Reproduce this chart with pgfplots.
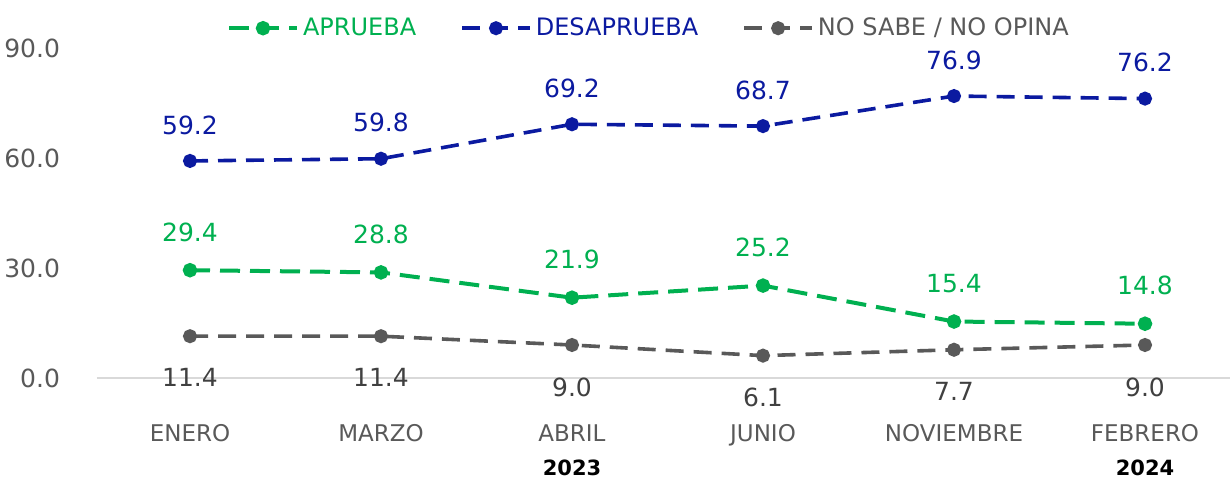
\documentclass[border=0pt]{standalone}
\usepackage{pgfplots}
\pgfplotsset{compat=1.18}
\usepackage{fontspec}
\setmainfont{DejaVu Sans}
\definecolor{cgreen}{HTML}{00B050}
\definecolor{cblue}{HTML}{0B1AA0}
\definecolor{cgray}{HTML}{595959}
\definecolor{cdgray}{HTML}{404040}
\definecolor{caxis}{HTML}{D9D9D9}
\begin{document}
\begin{tikzpicture}
\begin{axis}[
  scale only axis,
  width=566.5pt, height=165pt,
  xmin=-0.487, xmax=5.445,
  ymin=0, ymax=90,
  clip=false,
  axis y line=none,
  axis x line*=bottom,
  x axis line style={caxis, line width=1pt, -},
  xtick=\empty,
  ytick=\empty,
  /pgf/number format/assume math mode=true,
  legend style={draw=none, fill=none, at={(axis description cs:0.488,1.06)}, anchor=center,
    legend columns=3, font=\fontsize{12}{14}\selectfont,
    /tikz/every even column/.append style={column sep=20pt}},
  legend image code/.code={\draw[mark repeat=2,mark phase=2,#1] plot coordinates {(0pt,0pt) (17pt,0pt) (34pt,0pt)};},
  every node near coord/.append style={font=\fontsize{12.5}{14}\selectfont},
]
\addplot[cgreen, line width=2pt, dash pattern=on 10pt off 5pt, mark=*, mark size=2.6pt, mark options={solid},
  nodes near coords, point meta=explicit symbolic,
  every node near coord/.append style={cgreen, yshift=10pt}]
  coordinates {(0,29.4)[29.4] (1,28.8)[28.8] (2,21.9)[21.9] (3,25.2)[25.2] (4,15.4)[15.4] (5,14.8)[14.8]};
\addlegendentry{\textcolor{cgreen}{APRUEBA}}
\addplot[cblue, line width=1.8pt, dash pattern=on 9pt off 5pt, mark=*, mark size=2.6pt, mark options={solid},
  nodes near coords, point meta=explicit symbolic,
  every node near coord/.append style={cblue, yshift=9pt}]
  coordinates {(0,59.2)[59.2] (1,59.8)[59.8] (2,69.2)[69.2] (3,68.7)[68.7] (4,76.9)[76.9] (5,76.2)[76.2]};
\addlegendentry{\textcolor{cblue}{DESAPRUEBA}}
\addplot[cgray, line width=1.8pt, dash pattern=on 9pt off 5pt, mark=*, mark size=2.6pt, mark options={solid},
  nodes near coords, point meta=explicit symbolic,
  every node near coord/.append style={cdgray, anchor=north, yshift=-12pt}]
  coordinates {(0,11.4)[11.4] (1,11.4)[11.4] (2,9.0)[9.0] (3,6.1)[6.1] (4,7.7)[7.7] (5,9.0)[9.0]};
\addlegendentry{\textcolor{cgray}{NO SABE / NO OPINA}}
% y tick labels
\foreach \v/\t in {0/0.0,30/30.0,60/60.0,90/90.0}{
  \edef\tmp{\noexpand\node[anchor=east, text=cgray, font=\noexpand\fontsize{12.5}{14}\noexpand\selectfont] at (axis cs:-0.487,\v) [xshift=-15pt] {\t};}
  \tmp
}
% category labels
\foreach \i/\t in {0/ENERO,1/MARZO,2/ABRIL,3/JUNIO,4/NOVIEMBRE,5/FEBRERO}{
  \edef\tmp{\noexpand\node[text=cgray, anchor=base, font=\noexpand\fontsize{11.5}{13}\noexpand\selectfont] at (axis cs:\i,0) [yshift=-32pt] {\t};}
  \tmp
}
\node[anchor=base, font=\fontsize{10.5}{12}\selectfont\bfseries] at (axis cs:2,0) [yshift=-49pt] {2023};
\node[anchor=base, font=\fontsize{10.5}{12}\selectfont\bfseries] at (axis cs:5,0) [yshift=-49pt] {2024};
\coordinate (bl) at (axis description cs:-0.0856,-0.312);
\coordinate (tr) at (axis description cs:1.0,1.1455);
\end{axis}
\pgfresetboundingbox
\path (bl) rectangle (tr);
\end{tikzpicture}
\end{document}
